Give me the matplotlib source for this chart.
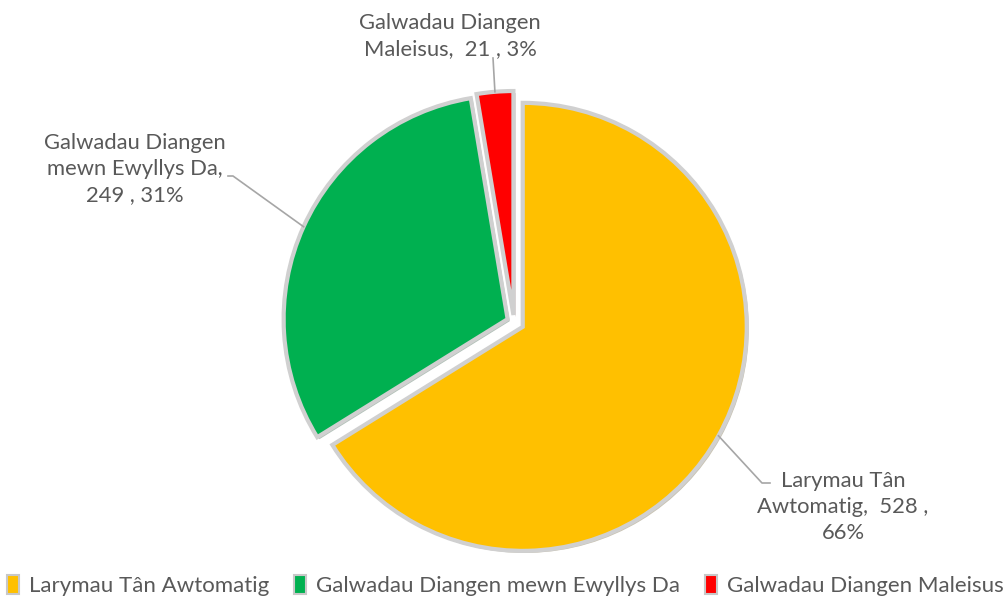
import matplotlib.pyplot as plt
import matplotlib.patheffects as pe
from matplotlib.patches import Patch
import numpy as np

# Data
categories = ['Larymau Tân Awtomatig', 'Galwadau Diangen mewn Ewyllys Da',
              'Galwadau Diangen Maleisus']
counts = [528, 249, 21]
percents = [66, 31, 3]
label_texts = ['Larymau Tân\nAwtomatig,  528 ,\n66%',
               'Galwadau Diangen\nmewn Ewyllys Da,\n249 , 31%',
               'Galwadau Diangen\nMaleisus,  21 , 3%']
colors = ['#FFC000', '#00B050', '#FF0000']

W, H = 1007, 601
plt.rcParams['font.family'] = ['Lato', 'DejaVu Sans']
text_color = '#595959'

fig = plt.figure(figsize=(W / 100, H / 100), dpi=100)
ax = fig.add_axes([0, 0, 1, 1])

# pie in pixel units (y measured upward)
R = 224
center = (514, H - 322)
wedges, _ = ax.pie(counts, colors=colors, startangle=90, counterclock=False,
                   radius=R, center=center, explode=[10, 7, 7],
                   wedgeprops=dict(edgecolor='#d0d0d0', linewidth=3),
                   frame=True)
for w in wedges:
    w.set_path_effects([pe.SimplePatchShadow(offset=(1.5, -1.5), alpha=0.3),
                        pe.Normal()])
ax.set_xlim(0, W)
ax.set_ylim(0, H)
ax.axis('off')

# data labels with leader lines
text_pos = [(843, H - 507), (135, H - 169), (450, H - 36)]
elbows = [[(762, H - 483), (770, H - 483)],
          [(233, H - 176), (228, H - 176)],
          [(493, H - 58)]]
for w, t, pos, elb in zip(wedges, label_texts, text_pos, elbows):
    mid = np.deg2rad((w.theta1 + w.theta2) / 2)
    cx, cy = w.center
    ex, ey = cx + w.r * np.cos(mid), cy + w.r * np.sin(mid)
    xs = [ex] + [p[0] for p in elb]
    ys = [ey] + [p[1] for p in elb]
    ax.plot(xs, ys, color='#a6a6a6', linewidth=1.2, zorder=1)
    ax.text(pos[0], pos[1], t, ha='center', va='center', fontsize=15.8,
            color=text_color, linespacing=1.35)

# legend
handles = [Patch(facecolor=c, edgecolor='#c8c8c8', linewidth=1.5) for c in colors]
fig.legend(handles, categories, loc='lower center', bbox_to_anchor=(0.502, -0.025),
           ncol=3, frameon=False, fontsize=16, labelcolor=text_color,
           handlelength=0.55, handleheight=0.9, handletextpad=0.45,
           columnspacing=1.1)

plt.savefig('out.png', dpi=100)
